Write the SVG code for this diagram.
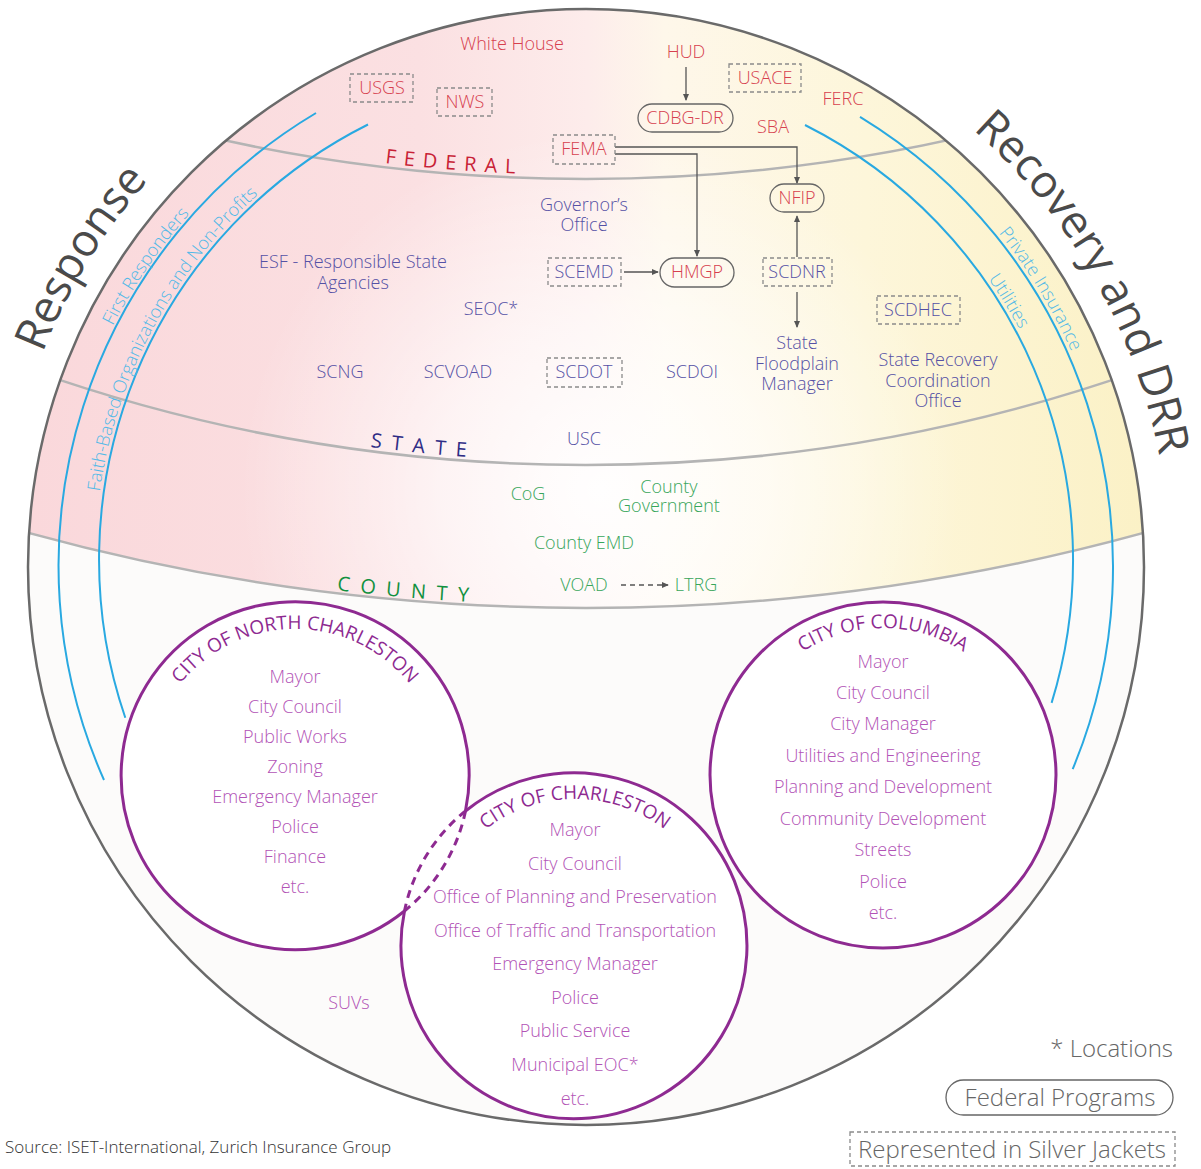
<svg xmlns="http://www.w3.org/2000/svg" xmlns:xlink="http://www.w3.org/1999/xlink" width="1201" height="1169" viewBox="0 0 1201 1169">
  <style>
    text { font-family: 'Open Sans', 'Liberation Sans', sans-serif; font-weight: 300; }
    .t { font-size: 18px; text-anchor: middle; }
    .fed { fill: #d6404e; }
    .st { fill: #5551a5; }
    .co { fill: #38a65b; }
    .city { fill: #b253b6; }
    .ttl { fill: #8e2a91; font-size: 19px; font-weight: 400; }
    .band { fill: none; stroke: #b4b4b4; stroke-width: 2.5; }
    .blue { fill: none; stroke: #29a9e1; stroke-width: 2; }
    .bluet { fill: #52b9e7; font-size: 18px; }
    .big { fill: #4a4a4a; font-size: 45px; font-weight: 400; }
    .box { fill: none; stroke: #8a8a8a; stroke-width: 1.3; stroke-dasharray: 4 3; }
    .pill { fill: none; stroke: #666; stroke-width: 1.3; }
    .arr { fill: none; stroke: #555; stroke-width: 1.3; marker-end: url(#ah); }
    .cc { fill: none; stroke: #8e2a91; stroke-width: 3; }
    .leg { fill: #666; font-size: 24px; }
    .lvl { font-size: 20px; font-weight: 400; }
  </style>
  <defs>
    <marker id="ah" viewBox="0 0 8 8" refX="7" refY="4" markerWidth="7" markerHeight="7" markerUnits="userSpaceOnUse" orient="auto">
      <path d="M0,0.5 L8,4 L0,7.5 z" fill="#555"/>
    </marker>
    <clipPath id="globe"><circle cx="586" cy="567" r="558"/></clipPath>
    <linearGradient id="tint" gradientUnits="userSpaceOnUse" x1="30" y1="0" x2="1145" y2="0">
      <stop offset="0" stop-color="#fad8db"/>
      <stop offset="0.35" stop-color="#fbe0e2"/>
      <stop offset="0.5" stop-color="#fdeceb"/>
      <stop offset="0.57" stop-color="#fef7ea"/>
      <stop offset="0.75" stop-color="#fdf6da"/>
      <stop offset="1" stop-color="#fbf1c6"/>
    </linearGradient>
    <radialGradient id="glow" gradientUnits="userSpaceOnUse" cx="600" cy="490" r="360">
      <stop offset="0" stop-color="#ffffff" stop-opacity="0.95"/>
      <stop offset="0.45" stop-color="#ffffff" stop-opacity="0.6"/>
      <stop offset="1" stop-color="#ffffff" stop-opacity="0"/>
    </radialGradient>
    <!-- text baselines -->
    <path id="pResp" d="M42.6,353 A584,584 0 0 1 504.7,-11.3"/>
    <path id="pRec" d="M973,129.6 A584,584 0 0 1 1150.1,718.2"/>
    <path id="pFirst" d="M112.9,325.9 A531,531 0 0 1 320.5,107.1"/>
    <path id="pFaith" d="M99.8,491.7 A491,491 0 0 1 418.1,98.5"/>
    <path id="pPriv" d="M998.7,232.8 A531,531 0 0 1 1117,567"/>
    <path id="pUtil" d="M988.3,278.7 A491,491 0 0 1 1077,560"/>
    <path id="pFed" d="M300,150.7 A1696,1696 0 0 0 872,150.7"/>
    <path id="pState" d="M300,436.3 A1666,1666 0 0 0 872,436.3"/>
    <path id="pCounty" d="M300,585.5 A2103,2103 0 0 0 872,585.5"/>
    <path id="pNC" d="M295,923 A147,147 0 1 1 295,629 A147,147 0 1 1 295,923"/>
    <path id="pCol" d="M883,922 A147,147 0 1 1 883,628 A147,147 0 1 1 883,922"/>
    <path id="pChs" d="M575,1093 A147,147 0 1 1 575,799 A147,147 0 1 1 575,1093"/>
  </defs>

  <rect width="1201" height="1169" fill="#ffffff"/>

  <!-- globe background -->
  <g id="globe-bg">
    <circle cx="586" cy="567" r="558" fill="#fcfbfa"/>
    <g clip-path="url(#globe)">
      <path d="M0,524.8 A2106,2106 0 0 0 1172,524.8 L1201,0 L0,0 Z" fill="url(#tint)"/>
      <path d="M0,524.8 A2106,2106 0 0 0 1172,524.8 L1201,0 L0,0 Z" fill="url(#glow)"/>
      <!-- level dividers -->
      <path class="band" d="M0,74.8 A1700,1700 0 0 0 1172,74.8"/>
      <path class="band" d="M0,358.8 A1670,1670 0 0 0 1172,358.8"/>
      <path class="band" d="M0,524.8 A2106,2106 0 0 0 1172,524.8"/>
    </g>
    <circle cx="586" cy="567" r="558" fill="none" stroke="#6a6a6a" stroke-width="2.5"/>
  </g>

  <!-- side labels -->
  <g id="side-labels">
    <text class="big"><textPath xlink:href="#pResp">Response</textPath></text>
    <text class="big"><textPath xlink:href="#pRec">Recovery and DRR</textPath></text>
  </g>

  <!-- actor arcs -->
  <g id="actor-arcs">
    <path class="blue" d="M316,113 A527,527 0 0 0 104,780"/>
    <path class="blue" d="M368,124.5 A487,487 0 0 0 125.3,717.7"/>
    <path class="blue" d="M860,116.8 A527,527 0 0 1 1072.7,769.1"/>
    <path class="blue" d="M805,125 A487,487 0 0 1 1051.6,702.9"/>
    <text class="bluet"><textPath xlink:href="#pFirst">First Responders</textPath></text>
    <text class="bluet"><textPath xlink:href="#pFaith">Faith-Based Organizations and Non-Profits</textPath></text>
    <text class="bluet"><textPath xlink:href="#pPriv">Private Insurance</textPath></text>
    <text class="bluet"><textPath xlink:href="#pUtil">Utilities</textPath></text>
  </g>

  <!-- level titles -->
  <g id="levels">
    <text class="lvl" fill="#c81f36" letter-spacing="8"><textPath xlink:href="#pFed" startOffset="86">FEDERAL</textPath></text>
    <text class="lvl" fill="#2f2c85" letter-spacing="10"><textPath xlink:href="#pState" startOffset="71">STATE</textPath></text>
    <text class="lvl" fill="#12913f" letter-spacing="10.5"><textPath xlink:href="#pCounty" startOffset="37">COUNTY</textPath></text>
  </g>

  <!-- connectors -->
  <g id="connectors">
    <path class="arr" d="M686,67 V100"/>
    <path class="arr" d="M615,147 H797 V183"/>
    <path class="arr" d="M615,154 H697 V256"/>
    <path class="arr" d="M624,272 H658"/>
    <path class="arr" d="M797,257 V216"/>
    <path class="arr" d="M797,292 V327"/>
    <path class="arr" d="M621,585 H668" stroke-dasharray="5 4"/>
  </g>

  <!-- federal -->
  <g id="white-house"><text class="t fed" x="512" y="50">White House</text></g>
  <g id="usgs"><rect class="box" x="350" y="74" width="63" height="28"/><text class="t fed" x="382" y="94">USGS</text></g>
  <g id="nws"><rect class="box" x="437" y="88" width="55" height="28"/><text class="t fed" x="465" y="108">NWS</text></g>
  <g id="hud"><text class="t fed" x="686" y="58">HUD</text></g>
  <g id="usace"><rect class="box" x="729" y="64" width="72" height="28"/><text class="t fed" x="765" y="84">USACE</text></g>
  <g id="cdbg-dr"><rect class="pill" x="638" y="104" width="95" height="28" rx="14"/><text class="t fed" x="685" y="124">CDBG-DR</text></g>
  <g id="ferc"><text class="t fed" x="843" y="105">FERC</text></g>
  <g id="sba"><text class="t fed" x="773" y="133">SBA</text></g>
  <g id="fema"><rect class="box" x="553" y="135" width="62" height="29"/><text class="t fed" x="584" y="155">FEMA</text></g>
  <g id="nfip"><rect class="pill" x="770" y="184" width="54" height="28" rx="14"/><text class="t fed" x="797" y="204">NFIP</text></g>
  <g id="hmgp"><rect class="pill" x="660" y="258" width="74" height="29" rx="14.5"/><text class="t fed" x="697" y="278">HMGP</text></g>

  <!-- state -->
  <g id="governors-office"><text class="t st" x="584" y="211">Governor’s</text><text class="t st" x="584" y="231">Office</text></g>
  <g id="esf"><text class="t st" x="353" y="268">ESF - Responsible State</text><text class="t st" x="353" y="289">Agencies</text></g>
  <g id="scemd"><rect class="box" x="548" y="258" width="73" height="28"/><text class="t st" x="584" y="278">SCEMD</text></g>
  <g id="scdnr"><rect class="box" x="763" y="258" width="69" height="28"/><text class="t st" x="797" y="278">SCDNR</text></g>
  <g id="seoc"><text class="t st" x="491" y="315">SEOC*</text></g>
  <g id="scdhec"><rect class="box" x="877" y="296" width="83" height="28"/><text class="t st" x="918" y="316">SCDHEC</text></g>
  <g id="scng"><text class="t st" x="340" y="378">SCNG</text></g>
  <g id="scvoad"><text class="t st" x="458" y="378">SCVOAD</text></g>
  <g id="scdot"><rect class="box" x="547" y="358" width="75" height="29"/><text class="t st" x="584" y="378">SCDOT</text></g>
  <g id="scdoi"><text class="t st" x="692" y="378">SCDOI</text></g>
  <g id="floodplain-manager"><text class="t st" x="797" y="349">State</text><text class="t st" x="797" y="370">Floodplain</text><text class="t st" x="797" y="390">Manager</text></g>
  <g id="recovery-office"><text class="t st" x="938" y="366">State Recovery</text><text class="t st" x="938" y="387">Coordination</text><text class="t st" x="938" y="407">Office</text></g>
  <g id="usc"><text class="t st" x="584" y="445">USC</text></g>

  <!-- county -->
  <g id="cog"><text class="t co" x="528" y="500">CoG</text></g>
  <g id="county-government"><text class="t co" x="669" y="493">County</text><text class="t co" x="669" y="512">Government</text></g>
  <g id="county-emd"><text class="t co" x="584" y="549">County EMD</text></g>
  <g id="voad"><text class="t co" x="584" y="591">VOAD</text></g>
  <g id="ltrg"><text class="t co" x="696" y="591">LTRG</text></g>

  <!-- cities -->
  <g id="city-fills">
    <circle cx="295" cy="776" r="174" fill="#ffffff"/>
    <circle cx="883" cy="775" r="173" fill="#ffffff"/>
    <circle cx="575" cy="946" r="173" fill="#ffffff"/>
  </g>
  <g id="north-charleston">
    <path class="cc" d="M465.5,811 A174,174 0 1 0 404.5,911"/>
    <path class="cc" d="M465.5,811 A174,174 0 0 1 404.5,911" stroke-dasharray="8 6"/>
    <text class="ttl" text-anchor="middle"><textPath xlink:href="#pNC" startOffset="50%">CITY OF NORTH CHARLESTON</textPath></text>
    <text class="t city" x="295" y="683">Mayor</text>
    <text class="t city" x="295" y="713">City Council</text>
    <text class="t city" x="295" y="743">Public Works</text>
    <text class="t city" x="295" y="773">Zoning</text>
    <text class="t city" x="295" y="803">Emergency Manager</text>
    <text class="t city" x="295" y="833">Police</text>
    <text class="t city" x="295" y="863">Finance</text>
    <text class="t city" x="295" y="893">etc.</text>
  </g>
  <g id="charleston">
    <path class="cc" d="M465.5,811 A173,173 0 1 1 404.5,911"/>
    <path class="cc" d="M465.5,811 A173,173 0 0 0 404.5,911" stroke-dasharray="8 6"/>
    <text class="ttl" text-anchor="middle"><textPath xlink:href="#pChs" startOffset="50%">CITY OF CHARLESTON</textPath></text>
    <text class="t city" x="575" y="836">Mayor</text>
    <text class="t city" x="575" y="870">City Council</text>
    <text class="t city" x="575" y="903">Office of Planning and Preservation</text>
    <text class="t city" x="575" y="937">Office of Traffic and Transportation</text>
    <text class="t city" x="575" y="970">Emergency Manager</text>
    <text class="t city" x="575" y="1004">Police</text>
    <text class="t city" x="575" y="1037">Public Service</text>
    <text class="t city" x="575" y="1071">Municipal EOC*</text>
    <text class="t city" x="575" y="1105">etc.</text>
  </g>
  <g id="columbia">
    <circle class="cc" cx="883" cy="775" r="173"/>
    <text class="ttl" text-anchor="middle"><textPath xlink:href="#pCol" startOffset="50%">CITY OF COLUMBIA</textPath></text>
    <text class="t city" x="883" y="668">Mayor</text>
    <text class="t city" x="883" y="699">City Council</text>
    <text class="t city" x="883" y="730">City Manager</text>
    <text class="t city" x="883" y="762">Utilities and Engineering</text>
    <text class="t city" x="883" y="793">Planning and Development</text>
    <text class="t city" x="883" y="825">Community Development</text>
    <text class="t city" x="883" y="856">Streets</text>
    <text class="t city" x="883" y="888">Police</text>
    <text class="t city" x="883" y="919">etc.</text>
  </g>
  <g id="suvs"><text class="t city" x="349" y="1009">SUVs</text></g>

  <!-- legend -->
  <g id="legend">
    <text class="leg" x="1173" y="1057" text-anchor="end">* Locations</text>
    <rect class="pill" x="946" y="1080" width="227" height="35" rx="17.5"/>
    <text class="leg" x="1060" y="1106" text-anchor="middle">Federal Programs</text>
    <rect class="box" x="850" y="1132" width="325" height="34"/>
    <text class="leg" x="1012" y="1158" text-anchor="middle">Represented in Silver Jackets</text>
  </g>
  <text x="5" y="1153" font-size="17" fill="#333">Source: ISET-International, Zurich Insurance Group</text>
</svg>
